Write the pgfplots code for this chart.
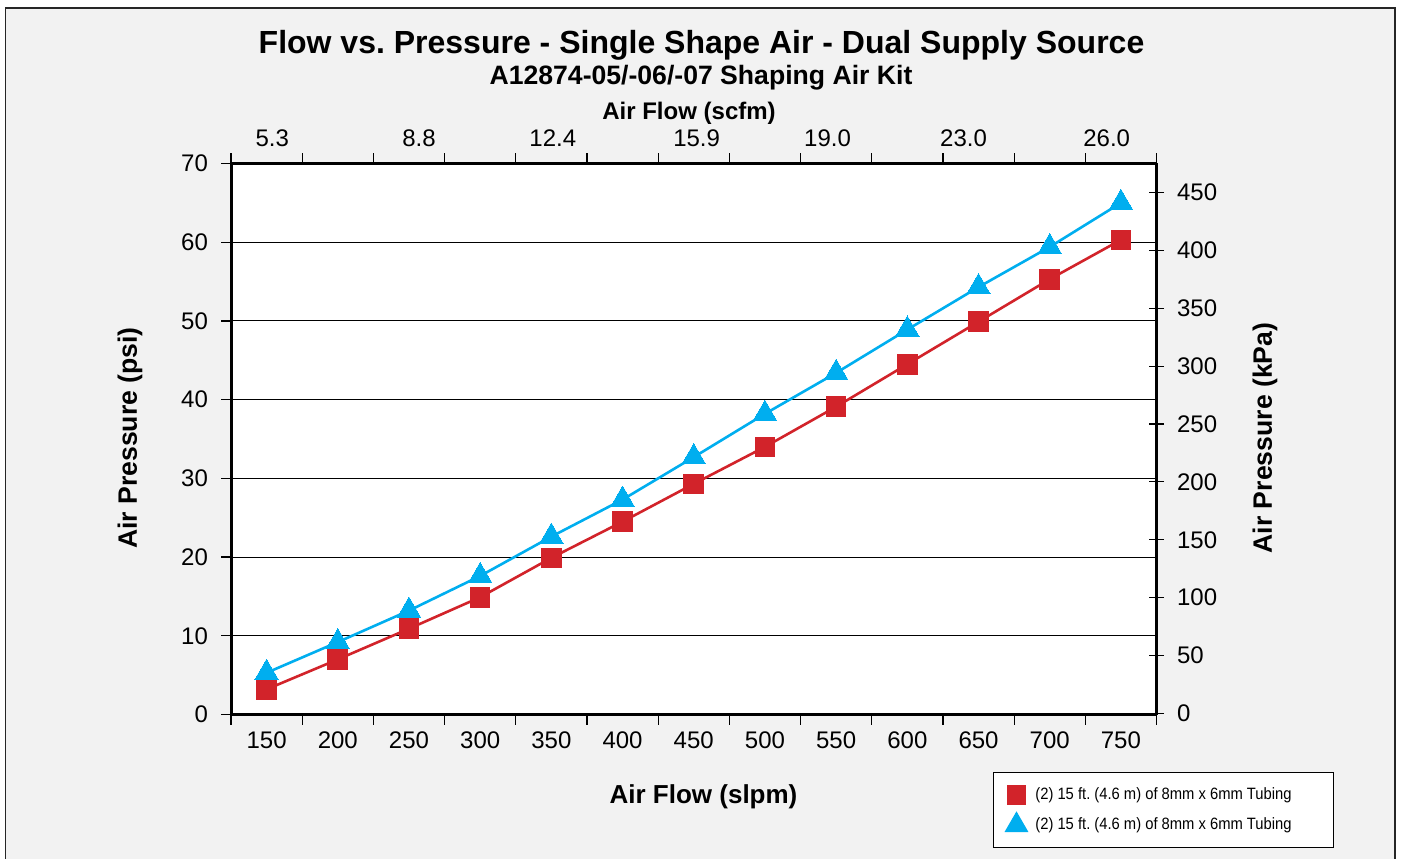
\documentclass[border=0pt]{standalone}
\usepackage{pgfplots}
\usepackage{pgfplotstable}
\pgfplotsset{compat=1.18}
\usepackage{fontspec}
\setmainfont{Liberation Sans}
\newfontfamily\narrowfont[FakeStretch=0.9]{Liberation Sans}
\definecolor{myred}{HTML}{D2232A}
\definecolor{myblue}{HTML}{00AEEF}
\definecolor{bg}{HTML}{F2F2F2}
\frenchspacing

\pgfplotstableread{
x red blue
0 3.2 5.3
1 7.0 9.2
2 10.9 13.2
3 14.9 17.6
4 19.9 22.6
5 24.5 27.3
6 29.3 32.7
7 34.0 38.2
8 39.1 43.4
9 44.5 48.9
10 49.9 54.3
11 55.3 59.4
12 60.3 65.0
}\datatable

\begin{document}
\begin{tikzpicture}
\useasboundingbox (0pt,0pt) rectangle (700.5pt,429pt);
\fill[white] (0pt,0pt) rectangle (700.5pt,429pt);
\fill[bg] (2.75pt,-2pt) rectangle (697.5pt,425pt);
\draw[black!85, line width=0.9pt] (2.75pt,-2pt) -- (2.75pt,425pt) -- (697.5pt,425pt) -- (697.5pt,-2pt);

% main axis
\begin{axis}[
  at={(115.5pt,71.75pt)}, anchor=south west,
  scale only axis, width=462.75pt, height=275.5pt,
  xmin=-0.5, xmax=12.5, ymin=0, ymax=70,
  axis x line*=bottom, axis y line*=left,
  axis line style={line width=1.5pt, black},
  xtick={0,...,12},
  xticklabels={150,200,250,300,350,400,450,500,550,600,650,700,750},
  minor xtick={-0.5,0.5,...,12.5},
  major x tick style={draw=none},
  ytick={0,10,...,70},
  tick align=outside,
  major tick length=5pt, minor tick length=5pt,
  tick style={black, line width=0.6pt},
  ymajorgrids, grid style={black, line width=0.5pt},
  tick label style={font=\fontsize{12}{14}\selectfont},
  yticklabel style={xshift=-3pt},
  /pgf/number format/assume math mode=true,
  axis background/.style={fill=white},
  clip=false,
  legend style={at={(rel axis cs:0.8233,-0.1044)}, anchor=north west,
    draw=black, line width=0.6pt, fill=white,
    font=\narrowfont\fontsize{8.2}{9.8}\selectfont,
    inner xsep=6pt, inner ysep=5.5pt, row sep=3pt,
    /tikz/every odd column/.append style={column sep=2pt}},
  legend cell align=left,
]
\addplot[myred, line width=1.3pt, mark=square*, mark size=4.5pt, mark options={solid, fill=myred, draw=myred}, forget plot] table[x=x, y=red] {\datatable};
\addplot[myblue, line width=1.3pt, mark=triangle*, mark size=6.8pt, mark options={solid, fill=myblue, draw=myblue, line width=0pt}, forget plot] table[x=x, y=blue] {\datatable};
\addlegendimage{only marks, mark=square*, mark size=4.5pt, myred, mark options={fill=myred}}
\addlegendentry{\makebox[141pt][l]{(2) 15 ft. (4.6 m) of 8mm x 6mm Tubing}}
\addlegendimage{only marks, mark=triangle*, mark size=6.3pt, myblue, mark options={fill=myblue}}
\addlegendentry{\makebox[141pt][l]{(2) 15 ft. (4.6 m) of 8mm x 6mm Tubing}}
\end{axis}

% top axis
\begin{axis}[
  at={(115.5pt,71.75pt)}, anchor=south west,
  scale only axis, width=462.75pt, height=275.5pt,
  xmin=-0.5, xmax=12.5, ymin=0, ymax=70,
  axis x line*=top, axis y line=none,
  axis line style={line width=1.5pt, black},
  xtick={0.08,2.14,4.02,6.04,7.88,9.79,11.8},
  xticklabels={5.3,8.8,12.4,15.9,19.0,23.0,26.0},
  minor xtick={-0.5,0.5,...,12.5},
  major x tick style={draw=none},
  tick align=outside,
  major tick length=5pt, minor tick length=5pt,
  tick style={black, line width=0.6pt},
  tick label style={font=\fontsize{12}{14}\selectfont},
]
\end{axis}

% right axis
\begin{axis}[
  at={(115.5pt,71.75pt)}, anchor=south west,
  scale only axis, width=462.75pt, height=275.5pt,
  xmin=-0.5, xmax=12.5, ymin=-1.0, ymax=475.1,
  axis x line=none, axis y line*=right,
  axis line style={line width=1.5pt, black},
  ytick={0,50,...,450},
  tick align=center,
  major tick length=7.5pt,
  tick style={black, line width=0.6pt},
  tick label style={font=\fontsize{12}{14}\selectfont},
  yticklabel style={xshift=3pt},
  /pgf/number format/assume math mode=true,
]
\end{axis}

\node[font=\bfseries\fontsize{16}{19}\selectfont, anchor=base] at (350.75pt,402.3pt) {Flow vs. Pressure - Single Shape Air - Dual Supply Source};
\node[font=\bfseries\fontsize{13.3}{16}\selectfont, anchor=base] at (350.5pt,386.5pt) {A12874-05/-06/-07 Shaping Air Kit};
\node[font=\bfseries\fontsize{12}{14}\selectfont, anchor=base] at (344.5pt,369pt) {Air Flow (scfm)};
\node[font=\bfseries\fontsize{13}{15}\selectfont, anchor=base] at (351.75pt,27.5pt) {Air Flow (slpm)};
\node[font=\bfseries\fontsize{13.3}{16}\selectfont, rotate=90] at (65pt,210pt) {Air Pressure (psi)};
\node[font=\bfseries\fontsize{13.3}{16}\selectfont, rotate=90] at (632.5pt,210pt) {Air Pressure (kPa)};
\end{tikzpicture}
\end{document}
